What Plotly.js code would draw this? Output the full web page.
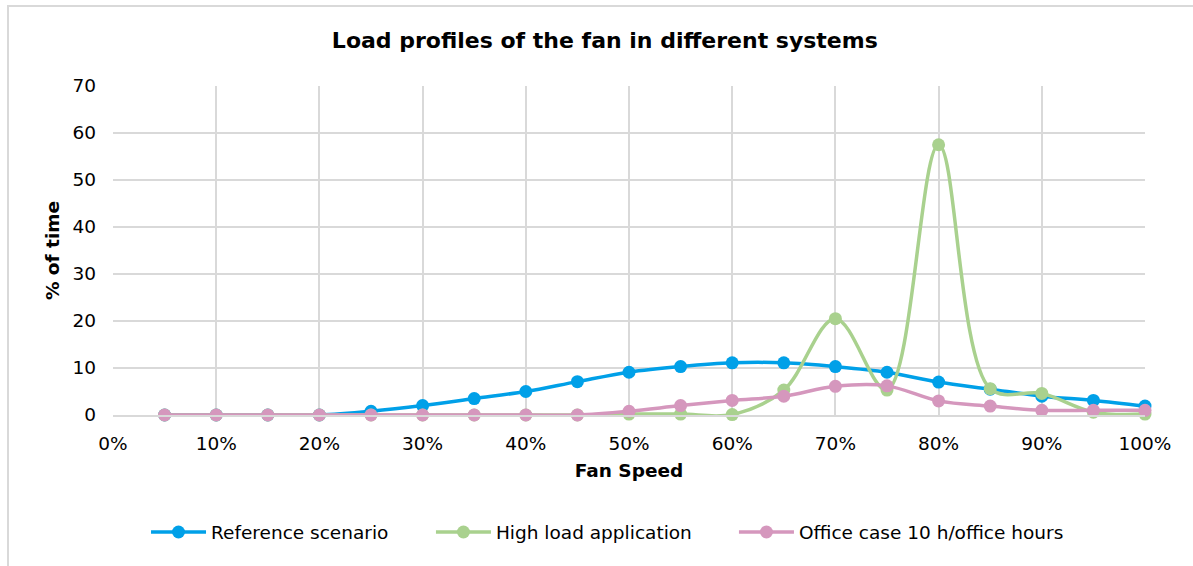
<!DOCTYPE html>
<html>
<head>
<meta charset="utf-8">
<script src="https://cdn.plot.ly/plotly-3.0.1.min.js"></script>
<style>
  html, body { margin: 0; padding: 0; background: #ffffff; }
  #chart { position: absolute; left: 0; top: 0; width: 1193px; height: 566px; }
  #frame { position: absolute; left: 7px; top: 5px; width: 1300px; height: 700px;
           border-left: 2px solid #d9d9d9; border-top: 2px solid #d9d9d9; pointer-events: none; }
</style>
</head>
<body>
<div id="chart"></div>
<div id="frame"></div>
<script>
const fanSpeed = [0.05, 0.10, 0.15, 0.20, 0.25, 0.30, 0.35, 0.40, 0.45, 0.50,
                  0.55, 0.60, 0.65, 0.70, 0.75, 0.80, 0.85, 0.90, 0.95, 1.00];
const referenceScenario = [0, 0, 0, 0, 0.8, 2.0, 3.5, 5.0, 7.1, 9.1,
                           10.3, 11.1, 11.1, 10.3, 9.1, 7.0, 5.5, 4.0, 3.1, 1.9];
const highLoad = [0, 0, 0, 0, 0, 0, 0, 0, 0, 0.2,
                  0.2, 0.1, 5.3, 20.5, 5.3, 57.5, 5.6, 4.6, 0.6, 0.2];
const officeCase = [0, 0, 0, 0, 0, 0, 0, 0, 0, 0.8,
                    2.0, 3.1, 4.0, 6.1, 6.2, 3.0, 1.9, 1.0, 1.0, 1.0];
const seriesNames = ["Reference scenario", "High load application", "Office case 10 h/office hours"];
const seriesColors = ["#00a0e8", "#a9d18e", "#d597bd"];
const xTickVals = [0, 0.1, 0.2, 0.3, 0.4, 0.5, 0.6, 0.7, 0.8, 0.9, 1.0];
const xTickText = ["0%", "10%", "20%", "30%", "40%", "50%", "60%", "70%", "80%", "90%", "100%"];
const yTickVals = [0, 10, 20, 30, 40, 50, 60, 70];

const font = "DejaVu Sans, Verdana, sans-serif";
const fs = 18.5;
const legendIds = ["legend", "legend2", "legend3"];
const legendX = [0.032, 0.3081, 0.6017];
const allY = [referenceScenario, highLoad, officeCase];
const traces = allY.map((ys, i) => ({
  type: "scatter",
  mode: "lines+markers",
  x: fanSpeed,
  y: ys,
  name: seriesNames[i],
  legend: legendIds[i],
  line: { color: seriesColors[i], width: 3.5, shape: "spline", smoothing: 1 },
  marker: { color: seriesColors[i], size: 13 },
  cliponaxis: false
}));

const layout = {
  width: 1193, height: 566,
  margin: { l: 113, r: 48, t: 86, b: 151, autoexpand: false },
  paper_bgcolor: "#ffffff",
  plot_bgcolor: "#ffffff",
  font: { family: font, size: fs, color: "#000000" },
  title: {
    text: "<b>Load profiles of the fan in different systems</b>",
    font: { family: font, size: 22, color: "#000000" },
    x: 0.507, xref: "container", xanchor: "center",
    y: 0.928, yref: "container", yanchor: "middle"
  },
  xaxis: {
    range: [0, 1],
    tickvals: xTickVals, ticktext: xTickText,
    showgrid: true, gridcolor: "#d9d9d9", gridwidth: 2,
    zeroline: false,
    showline: true, linecolor: "#d9d9d9", linewidth: 2,
    ticks: "", ticklabelstandoff: 11,
    tickfont: { family: font, size: fs, color: "#000000" },
    title: { text: "<b>Fan Speed</b>", font: { family: font, size: fs, color: "#000000" }, standoff: 11 },
    fixedrange: true
  },
  yaxis: {
    range: [0, 70],
    tickvals: yTickVals,
    showgrid: true, gridcolor: "#d9d9d9", gridwidth: 2,
    zeroline: false,
    showline: false,
    ticks: "", ticklabelstandoff: 16,
    tickfont: { family: font, size: fs, color: "#000000" },
    title: { text: "<b>% of time</b>", font: { family: font, size: fs, color: "#000000" }, standoff: 7 },
    fixedrange: true
  },
  showlegend: true
};
legendIds.forEach((id, i) => {
  layout[id] = {
    orientation: "h",
    x: legendX[i], xanchor: "left",
    y: -0.357, yanchor: "middle",
    font: { family: font, size: fs, color: "#000000" },
    itemwidth: 55,
    bgcolor: "rgba(0,0,0,0)"
  };
});

Plotly.newPlot("chart", traces, layout, { displayModeBar: false, staticPlot: true });
</script>
</body>
</html>
